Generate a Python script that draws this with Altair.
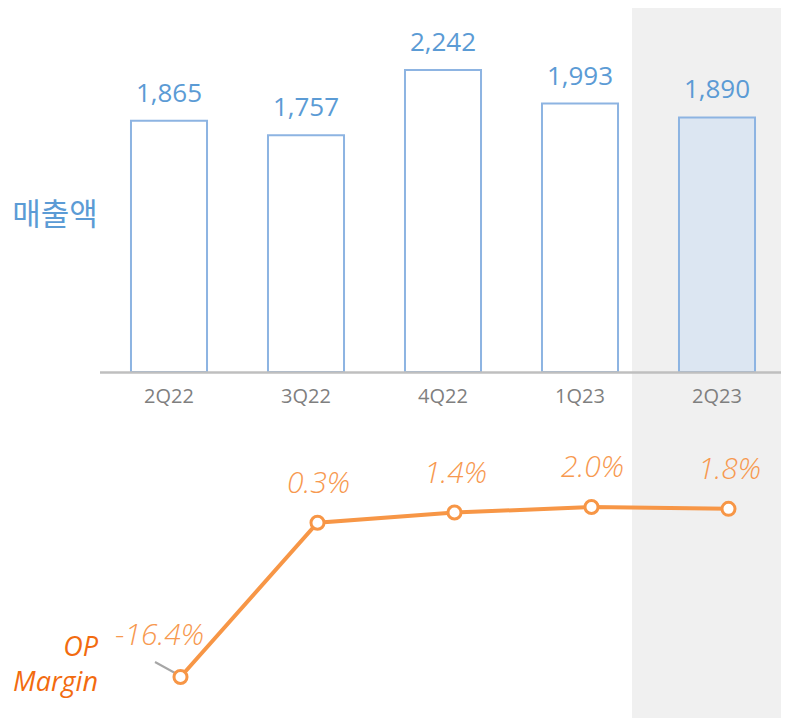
import altair as alt
import pandas as pd

quarters = ["2Q22", "3Q22", "4Q22", "1Q23", "2Q23"]
sales = [1865, 1757, 2242, 1993, 1890]
op_margin = [-16.4, 0.3, 1.4, 2.0, 1.8]
sales_labels = ["1,865", "1,757", "2,242", "1,993", "1,890"]
margin_labels = ["-16.4%", "0.3%", "1.4%", "2.0%", "1.8%"]
highlight = [False, False, False, False, True]

df = pd.DataFrame({
    "q": quarters,
    "sales": sales,
    "margin": op_margin,
    "slabel": sales_labels,
    "mlabel": margin_labels,
    "hl": highlight,
})

W, H = 773, 710
xscale = alt.Scale(domain=quarters, range=[92.5, 777.5], paddingInner=0.445, paddingOuter=0.2225)
xline_scale = alt.Scale(domain=quarters, range=[104, 789], paddingInner=0.445, paddingOuter=0.2225)
ybar = alt.Scale(domain=[0, 2242], range=[364, 62], nice=False, zero=False)
yline = alt.Scale(domain=[-16.4, 2.0], range=[669, 499], nice=False, zero=False)

X = alt.X("q:N", scale=xscale, sort=quarters, axis=None)
XL = alt.X("q:N", scale=xline_scale, sort=quarters, axis=None)

shade = alt.Chart(df).mark_rect(fill="#f0f0f0").encode(
    x=alt.value(624), x2=alt.value(W), y=alt.value(-3), y2=alt.value(H))

bars = alt.Chart(df).mark_bar(stroke="#8db4e2", strokeWidth=2).encode(
    x=X,
    y=alt.Y("sales:Q", scale=ybar, axis=None),
    fill=alt.condition("datum.hl", alt.value("#dce6f2"), alt.value("#ffffff")),
)

axis_line = alt.Chart(df).transform_filter("datum.hl").mark_rule(
    color="#bfbfbf", strokeWidth=2.5).encode(
    x=alt.value(92), x2=alt.value(W), y=alt.value(364.5))

axis_lbl = alt.Chart(df).mark_text(fontSize=20, font="Open Sans", color="#7f7f7f",
                                   baseline="middle").encode(
    x=X, y=alt.value(389), text="q:N")

bar_text = alt.Chart(df).mark_text(dy=-19, baseline="alphabetic", fontSize=26,
                                   font="Open Sans", color="#5b9bd5").encode(
    x=X, y=alt.Y("sales:Q", scale=ybar, axis=None), text="slabel:N")

title_txt = alt.Chart(pd.DataFrame({"t": ["매출액"]})).mark_text(
    font="Noto Sans CJK KR", fontSize=31, color="#5b9bd5", align="center", baseline="middle"
).encode(x=alt.value(47), y=alt.value(208), text="t:N")

line = alt.Chart(df).mark_line(color="#f79646", strokeWidth=4).encode(
    x=XL, y=alt.Y("margin:Q", scale=yline, axis=None))

pts = alt.Chart(df).mark_point(filled=True, fill="white", stroke="#f79646", strokeWidth=3,
                               size=170, shape="circle", opacity=1).encode(
    x=XL, y=alt.Y("margin:Q", scale=yline, axis=None))

mtext = alt.Chart(df).transform_filter("datum.margin > 0").mark_text(
    dy=-30, dx=1, baseline="alphabetic", fontSize=30, font="Open Sans", fontStyle="italic",
    fontWeight=300, color="#f7994f").encode(
    x=XL, y=alt.Y("margin:Q", scale=yline, axis=None), text="mlabel:N")

mtext0 = alt.Chart(df).transform_filter("datum.margin < 0").mark_text(
    dy=-32, dx=-21, baseline="alphabetic", fontSize=30, font="Open Sans", fontStyle="italic",
    fontWeight=300, color="#f7994f").encode(
    x=XL, y=alt.Y("margin:Q", scale=yline, axis=None), text="mlabel:N")

leader = alt.Chart(df).transform_filter("datum.margin < 0").mark_rule(
    color="#a6a6a6", strokeWidth=2).encode(
    x=alt.value(147), x2=alt.value(167), y=alt.value(654), y2=alt.value(665))

op_lbl = alt.Chart(pd.DataFrame({"t": ["OP", "Margin"], "yy": [648, 683]})).mark_text(
    font="Open Sans", fontSize=27, fontStyle="italic", color="#f26b0f", align="right",
    baseline="middle").encode(
    x=alt.value(90), y=alt.Y("yy:Q", scale=alt.Scale(domain=[8, 726], range=[0, 718]), axis=None),
    text="t:N")

chart = alt.layer(shade, bars, axis_line, axis_lbl, bar_text, title_txt, line, leader, pts,
                  mtext, mtext0, op_lbl).resolve_scale(
    x="independent", y="independent").properties(
    width=W, height=H, autosize=alt.AutoSizeParams(type="none"), padding=0
).configure_view(stroke=None)

chart.save("out.html", embed_options={"renderer": "svg", "actions": False})
